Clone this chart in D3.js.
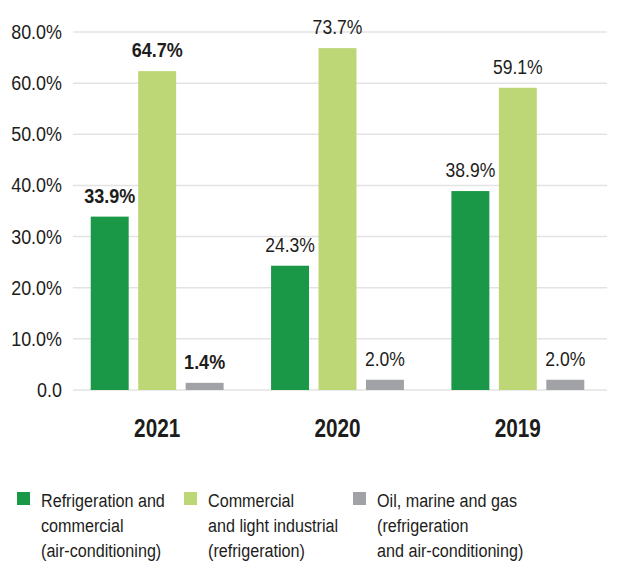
<!DOCTYPE html>
<html>
<head>
<meta charset="utf-8">
<script src="https://cdn.jsdelivr.net/npm/d3@7/dist/d3.min.js"></script>
<style>
  html, body { margin: 0; padding: 0; background: #fff; }
  svg { display: block; }
  text { font-family: "Liberation Sans", Arial, sans-serif; fill: #1d1d1b; }
</style>
</head>
<body>
<svg id="chart" width="617" height="563"></svg>
<script>
const years = ["2021", "2020", "2019"];
const seriesNames = ["refrig", "commercial", "oil"];
const refrigValues = [33.9, 24.3, 38.9];
const commercialValues = [64.7, 73.7, 59.1];
const oilValues = [1.4, 2.0, 2.0];
const valueLabels = [["33.9%", "64.7%", "1.4%"], ["24.3%", "73.7%", "2.0%"], ["38.9%", "59.1%", "2.0%"]];
const boldYear = "2021";
const yTickValues = [0, 10, 20, 30, 40, 50, 60, 80];
const yTickLabels = ["0.0", "10.0%", "20.0%", "30.0%", "40.0%", "50.0%", "60.0%", "80.0%"];
const legendLines = [
  ["Refrigeration and", "commercial", "(air-conditioning)"],
  ["Commercial", "and light industrial", "(refrigeration)"],
  ["Oil, marine and gas", "(refrigeration", "and air-conditioning)"]
];
const colors = ["#1b9847", "#bdd777", "#a1a2a5"];

const svg = d3.select("#chart");
const seriesValues = [refrigValues, commercialValues, oilValues];

const plotLeft = 73, plotRight = 607, yTop = 32, yBottom = 390;
// axis spacing is even between successive labelled ticks
const y = d3.scaleLinear()
  .domain(yTickValues)
  .range(yTickValues.map((d, i) => yBottom - i * (yBottom - yTop) / (yTickValues.length - 1)));

const x0 = d3.scaleBand().domain(years).range([67, 608]).padding(0);
const x1 = d3.scaleBand().domain(seriesNames).range([0, x0.bandwidth()]).paddingInner(0.2).paddingOuter(0.5);

// gridlines
svg.append("g").selectAll("line").data(yTickValues).join("line")
  .attr("x1", plotLeft).attr("x2", plotRight)
  .attr("y1", d => y(d)).attr("y2", d => y(d))
  .attr("stroke", "#e3e3e3").attr("stroke-width", 1.5);

// y tick labels
svg.append("g").selectAll("text").data(yTickValues).join("text")
  .attr("transform", d => `translate(62,${y(d) + 7}) scale(0.92,1)`)
  .attr("text-anchor", "end")
  .style("font-size", "19.5px")
  .text((d, i) => yTickLabels[i]);

// bars
const groups = svg.append("g").selectAll("g").data(years).join("g")
  .attr("transform", d => `translate(${x0(d)},0)`);

groups.each(function(year, yi) {
  const g = d3.select(this);
  const data = seriesNames.map((s, si) => ({ s, si, v: seriesValues[si][yi], label: valueLabels[yi][si] }));
  g.selectAll("rect").data(data).join("rect")
    .attr("x", d => x1(d.s))
    .attr("width", x1.bandwidth())
    .attr("y", d => y(d.v))
    .attr("height", d => yBottom - y(d.v))
    .attr("fill", d => colors[d.si]);
  g.selectAll("text.val").data(data).join("text")
    .attr("class", "val")
    .attr("transform", d => `translate(${x1(d.s) + x1.bandwidth() / 2},${y(d.v) - 14}) scale(0.9,1)`)
    .attr("text-anchor", "middle")
    .style("font-size", year === boldYear ? "20px" : "19.5px")
    .style("font-weight", year === boldYear ? "bold" : "normal")
    .text(d => d.label);
});

// year labels
svg.append("g").selectAll("text").data(years).join("text")
  .attr("transform", d => `translate(${x0(d) + x0.bandwidth() / 2},437) scale(0.83,1)`)
  .attr("text-anchor", "middle")
  .style("font-size", "25px").style("font-weight", "bold")
  .text(d => d);

// legend
const legendX = [17, 184, 353];
const leg = svg.append("g").selectAll("g").data(legendLines).join("g")
  .attr("transform", (d, i) => `translate(${legendX[i]},0)`);
leg.append("rect").attr("x", 0).attr("y", 492).attr("width", 13).attr("height", 13)
  .attr("fill", (d, i) => colors[i]);
leg.each(function(lines) {
  d3.select(this).selectAll("text").data(lines).join("text")
    .attr("transform", (d, i) => `translate(24,${507 + i * 25}) scale(0.85,1)`)
    .style("font-size", "19px")
    .text(d => d);
});
</script>
</body>
</html>
